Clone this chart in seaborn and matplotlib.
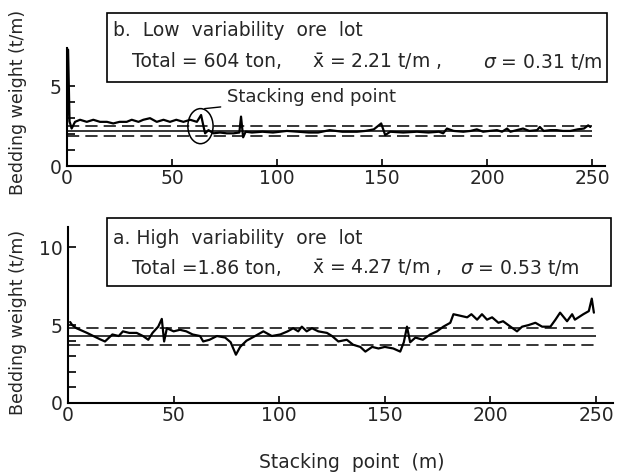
import seaborn as sns
import matplotlib.pyplot as plt
from matplotlib.patches import Ellipse, Rectangle

# Low variability ore lot (panel b)
low_x = [0, 0.5, 1.2, 2.2, 3.8, 6.2, 9.4, 12.5, 15.7, 19,
         22, 25, 28.4, 30.8, 34, 36.3, 39.5, 42.7, 45.9, 49,
         52, 55.4, 58.6, 61.8, 63.8, 65, 65.7, 67.3, 69.7, 72.8,
         76, 79.2, 82, 82.8, 83.8, 85, 88, 93, 98, 104.6,
         110, 115, 119.5, 125, 131, 138, 142, 146, 149.5, 151.4,
         153.8, 160, 166.5, 172, 177, 179, 180.8, 184, 188.6, 192,
         195, 198, 201, 204.6, 207, 209.4, 211, 214, 217, 220,
         223.7, 225, 226.8, 230, 233, 236, 239.5, 243, 246, 248,
         249]
low_y = [2.6, 7.3, 2.8, 2.35, 2.77, 2.9, 2.77, 2.9, 2.77, 2.77,
         2.67, 2.77, 2.77, 2.9, 2.77, 2.9, 3.0, 2.77, 2.9, 2.77,
         2.9, 2.77, 2.9, 2.77, 3.2, 2.45, 2.05, 2.25, 2.05, 2.1,
         2.05, 2.05, 2.1, 3.1, 1.8, 2.15, 2.1, 2.15, 2.1, 2.2,
         2.15, 2.1, 2.1, 2.25, 2.15, 2.15, 2.2, 2.3, 2.67, 1.94,
         2.15, 2.1, 2.15, 2.1, 2.15, 2.05, 2.35, 2.2, 2.15, 2.2,
         2.3, 2.15, 2.2, 2.25, 2.15, 2.35, 2.15, 2.25, 2.35, 2.2,
         2.25, 2.45, 2.2, 2.25, 2.25, 2.2, 2.2, 2.3, 2.35, 2.55,
         2.45]
low_mean, low_sd = 2.21, 0.31

# High variability ore lot (panel a)
high_x = [1, 2, 4, 9, 15, 17.5, 21, 24, 26, 29,
          32.5, 35.5, 38, 40, 42.7, 44.4, 45.5, 46.8, 50, 53,
          56, 59, 62.5, 64, 67, 70.5, 74.4, 77, 79.5, 81.5,
          84.5, 88.6, 92.5, 96.5, 100.5, 104, 106.6, 109, 110.7, 113,
          115.5, 118.5, 122.6, 125, 128, 132, 135, 138.4, 140.8, 144,
          147, 150, 154, 157.3, 159, 160.5, 162, 164.5, 168, 171.5,
          174.7, 177.7, 181, 182.5, 185.8, 189, 191, 193.7, 196, 198.4,
          200.8, 203.8, 206, 209.5, 212.6, 215, 218, 221.3, 224.5, 228.4,
          230.8, 233, 236.3, 238.7, 240, 244, 246.6, 248, 249]
high_y = [5.2, 5.0, 4.8, 4.5, 4.1, 3.95, 4.4, 4.3, 4.6, 4.5,
          4.5, 4.3, 4.06, 4.5, 4.9, 5.4, 3.95, 4.8, 4.6, 4.7,
          4.6, 4.4, 4.3, 3.95, 4.06, 4.3, 4.2, 3.9, 3.1, 3.6,
          4.0, 4.3, 4.6, 4.3, 4.4, 4.6, 4.8, 4.6, 4.9, 4.6,
          4.8, 4.6, 4.5, 4.3, 3.95, 4.06, 3.74, 3.6, 3.3, 3.6,
          3.5, 3.6, 3.5, 3.3, 3.9, 4.9, 3.9, 4.2, 4.06, 4.4,
          4.6, 4.9, 5.15, 5.7, 5.6, 5.5, 5.7, 5.35, 5.7, 5.35,
          5.5, 5.15, 5.25, 4.9, 4.6, 4.9, 5.0, 5.15, 4.9, 4.9,
          5.35, 5.8, 5.25, 5.7, 5.35, 5.7, 5.9, 6.7, 5.8]
high_mean, high_sd = 4.27, 0.53

x_ticks = [0, 50, 100, 150, 200, 250]

sns.set_theme(style="white")
plt.rcParams['font.family'] = ['DejaVu Sans']
plt.rcParams['mathtext.fontset'] = 'dejavusans'

fig = plt.figure(figsize=(6.27, 4.75), dpi=100)
ax_top = fig.add_axes([0.1069, 0.6505, 0.858, 0.2484])
ax_bot = fig.add_axes([0.1085, 0.1516, 0.869, 0.3705])


def style_axis(ax, ylim, xmax, yticks, minor, label_pos):
    for s in ['top', 'right']:
        ax.spines[s].set_visible(False)
    for s in ['bottom', 'left']:
        ax.spines[s].set_linewidth(1.5)
        ax.spines[s].set_color('black')
    ax.set_xlim(0, xmax)
    ax.set_ylim(*ylim)
    ax.set_xticks(x_ticks)
    ax.set_yticks(yticks)
    ax.set_yticks(minor, minor=True)
    ax.tick_params(axis='x', direction='in', length=5, width=1.2,
                   labelsize=13.5, pad=2, bottom=True, color='black')
    ax.tick_params(axis='y', which='major', direction='in', length=6, width=1.2,
                   labelsize=13.5, pad=4, left=True, color='black')
    ax.tick_params(axis='y', which='minor', direction='in', length=6, width=1.2,
                   left=True, color='black')
    ax.set_xlabel(None)
    ax.set_ylabel('Bedding weight (t/m)', fontsize=12.5)
    ax.yaxis.set_label_coords(*label_pos)


# panel b
sns.lineplot(x=low_x, y=low_y, ax=ax_top, color='black', lw=1.6,
             estimator=None, sort=False)
ax_top.hlines(low_mean, 0, 250, color='black', lw=1.1)
for v in [low_mean - low_sd, low_mean + low_sd]:
    ax_top.hlines(v, 0, 250, color='black', lw=1.1, linestyles=(0, (8, 4)))
style_axis(ax_top, (0, 7.4), 256, [0, 5], [1, 2, 3, 4], (-0.074, 0.54))
ax_top.add_patch(Ellipse((63.5, 2.5), 12, 2.2, fill=False, ec='black', lw=1.1))
ax_top.annotate('Stacking end point', xy=(65.5, 3.6), xytext=(76, 4.3),
                va='center', ha='left', fontsize=13,
                arrowprops=dict(arrowstyle='-', lw=1, color='black',
                                shrinkA=2, shrinkB=0))

# panel a
sns.lineplot(x=high_x, y=high_y, ax=ax_bot, color='black', lw=1.6,
             estimator=None, sort=False)
ax_bot.hlines(high_mean, 0, 250, color='black', lw=1.1)
for v in [high_mean - high_sd, high_mean + high_sd]:
    ax_bot.hlines(v, 0, 250, color='black', lw=1.1, linestyles=(0, (8, 4)))
style_axis(ax_bot, (0, 11.3), 258, [0, 5, 10], [1, 2, 3, 4], (-0.075, 0.46))

# text boxes
W, H = 627, 475


def fx(px):
    return px / W


def fy(py):
    return 1 - py / H


box_fs = 13.5
fig.add_artist(Rectangle((fx(107), fy(82)), fx(607) - fx(107), fy(13) - fy(82),
                         transform=fig.transFigure, fill=False, ec='black', lw=1.2))
fig.text(fx(113), fy(30.5), 'b.  Low  variability  ore  lot', fontsize=box_fs, va='center')
fig.text(fx(132), fy(61.5), 'Total = 604 ton,', fontsize=box_fs, va='center')
fig.text(fx(312), fy(61.5), r'$\bar{\mathrm{x}}$ = 2.21 t/m ,', fontsize=box_fs, va='center')
fig.text(fx(603), fy(61.5), r'$\sigma$ = 0.31 t/m', fontsize=box_fs, va='center', ha='right')

fig.add_artist(Rectangle((fx(107), fy(286)), fx(611) - fx(107), fy(218) - fy(286),
                         transform=fig.transFigure, fill=False, ec='black', lw=1.2))
fig.text(fx(113), fy(238), 'a. High  variability  ore  lot', fontsize=box_fs, va='center')
fig.text(fx(132), fy(268), 'Total =1.86 ton,', fontsize=box_fs, va='center')
fig.text(fx(312), fy(268), r'$\bar{\mathrm{x}}$ = 4.27 t/m ,', fontsize=box_fs, va='center')
fig.text(fx(580), fy(268), r'$\sigma$ = 0.53 t/m', fontsize=box_fs, va='center', ha='right')

fig.text(fx(352), fy(463), 'Stacking  point  (m)', fontsize=13.5, ha='center', va='center')

plt.savefig('out.png', dpi=100)
